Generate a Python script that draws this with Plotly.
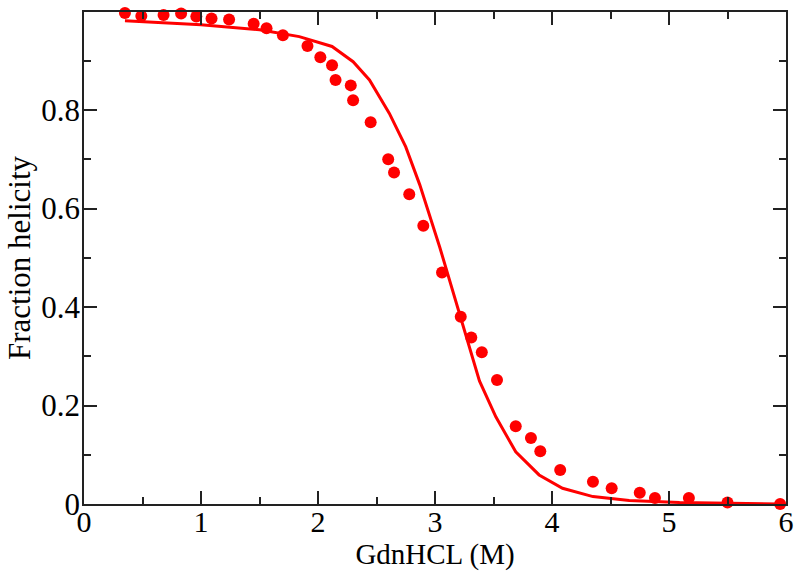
import plotly.graph_objects as go

# Measured data (GdnHCl concentration vs fraction helicity)
conc_pts = [0.35, 0.49, 0.68, 0.83, 0.96, 1.09, 1.24, 1.45, 1.56, 1.70, 1.91, 2.02,
            2.12, 2.15, 2.28, 2.30, 2.45, 2.60, 2.65, 2.78, 2.90, 3.06, 3.22, 3.31,
            3.40, 3.53, 3.69, 3.82, 3.90, 4.07, 4.35, 4.51, 4.75, 4.88, 5.17, 5.50, 5.95]
helix_pts = [0.997, 0.991, 0.993, 0.996, 0.990, 0.986, 0.984, 0.975, 0.966, 0.952, 0.930, 0.907,
             0.891, 0.861, 0.850, 0.820, 0.775, 0.700, 0.673, 0.629, 0.565, 0.470, 0.380, 0.338,
             0.308, 0.252, 0.158, 0.134, 0.107, 0.069, 0.045, 0.032, 0.023, 0.012, 0.012, 0.003, 0.0]

# Fitted curve
conc_fit = [0.35, 1.00, 1.50, 1.84, 2.12, 2.30, 2.44, 2.61, 2.75, 2.87, 3.04, 3.21,
            3.38, 3.52, 3.69, 3.89, 4.09, 4.35, 4.66, 5.09, 5.94]
helix_fit = [0.981, 0.973, 0.963, 0.949, 0.929, 0.898, 0.861, 0.793, 0.725, 0.648, 0.522, 0.387,
             0.250, 0.177, 0.106, 0.059, 0.032, 0.015, 0.007, 0.003, 0.0]

x_ticks = [0, 1, 2, 3, 4, 5, 6]
y_ticks = [0, 0.2, 0.4, 0.6, 0.8]
y_tick_labels = ["0", "0.2", "0.4", "0.6", "0.8"]

RED = "#ff0000"
FONT = "Liberation Serif"

fig = go.Figure()
fig.add_trace(go.Scatter(x=conc_fit, y=helix_fit, mode="lines",
                         line=dict(color=RED, width=3), showlegend=False, cliponaxis=False))
fig.add_trace(go.Scatter(x=conc_pts, y=helix_pts, mode="markers", cliponaxis=False,
                         marker=dict(color=RED, size=12, line=dict(width=0)), showlegend=False))

axis_common = dict(
    showgrid=False, zeroline=False, showline=True, linecolor="#222222", linewidth=1.5,
    mirror="allticks", ticks="inside", ticklen=13, tickwidth=1.5, tickcolor="#222222",
    automargin=False,
)

fig.update_xaxes(range=[0, 6], tickvals=x_ticks, ticklabelstandoff=-10,
                 tickfont=dict(family=FONT, size=30, color="black"),
                 minor=dict(dtick=0.5, ticks="inside", ticklen=7, tickwidth=1.5, tickcolor="#222222"),
                 title=dict(text="GdnHCL (M)", font=dict(family=FONT, size=29, color="black"), standoff=0),
                 **axis_common)
fig.update_yaxes(range=[0, 0.999], tickvals=y_ticks, ticktext=y_tick_labels, ticklabelstandoff=-4,
                 tickfont=dict(family=FONT, size=31, color="black"),
                 minor=dict(dtick=0.1, ticks="inside", ticklen=7, tickwidth=1.5, tickcolor="#222222"),
                 title=dict(text="Fraction helicity", font=dict(family=FONT, size=31, color="black"), standoff=1),
                 **axis_common)

fig.update_layout(width=800, height=572, margin=dict(l=84, r=14, t=12, b=68),
                  plot_bgcolor="white", paper_bgcolor="white")

fig.write_html("out.html", config={"displayModeBar": False},
               post_script="document.body.style.margin='0';document.body.style.padding='0';")
